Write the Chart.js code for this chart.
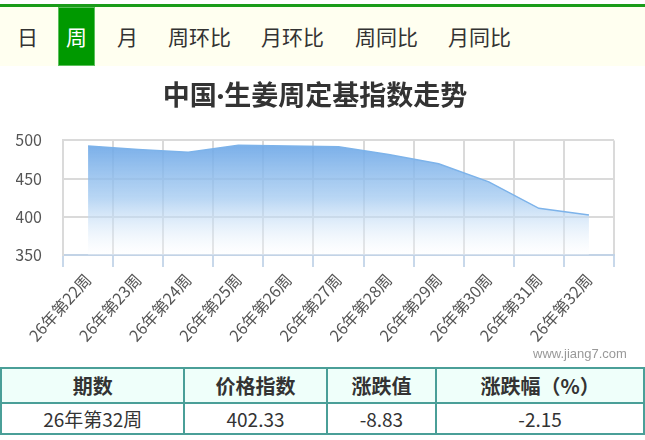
<!DOCTYPE html>
<html>
<head>
<meta charset="utf-8">
<script src="https://cdn.jsdelivr.net/npm/chart.js@4.4.1/dist/chart.umd.min.js"></script>
<style>
  body { margin: 0; background: #fff; font-family: "Noto Sans CJK SC", "Noto Sans", sans-serif; color: #333; }
  #page { position: relative; width: 645px; height: 440px; overflow: hidden; }
  #nav { position: absolute; left: 0; top: 4px; width: 645px; height: 59px; border-top: 3px solid #1a9c1a; background: #fffff0; }
  #nav span { position: absolute; top: 0; height: 59px; line-height: 59px; font-size: 21px; color: #333; }
  #nav span.on { background: #009900; color: #fff; width: 37px; text-align: center; box-shadow: inset 0 0 0 1px #5cbf5c; }
  #box { position: absolute; left: 0; top: 66px; width: 645px; height: 300px; }
  #mark { position: absolute; left: 533px; top: 346px; font: 13px "Liberation Sans", sans-serif; color: #999; }
  table { position: absolute; left: 0; top: 367px; width: 645px; border-collapse: collapse; }
  td, th { border: 2px solid #4a9f98; text-align: center; padding: 0; }
  th { background: #effffa; height: 33px; font-size: 20px; font-weight: bold; }
  td { height: 29px; font-size: 19px; }
</style>
</head>
<body>
<div id="page">
  <div id="nav"></div>
  <div id="box"><canvas id="graphique"></canvas></div>
  <div id="mark">www.jiang7.com</div>
  <table id="tbl"></table>
</div>
<script>
// ---- données ----
const tabs = ["日", "周", "月", "周环比", "月环比", "周同比", "月同比"];
const tabLeft = [17, 58, 117, 168, 261, 355, 448];
const weeks = ["26年第22周", "26年第23周", "26年第24周", "26年第25周", "26年第26周", "26年第27周",
               "26年第28周", "26年第29周", "26年第30周", "26年第31周", "26年第32周"];
const values = [492.8, 488.0, 484.5, 493.6, 492.8, 491.8, 481.5, 469.5, 445.8, 411.16, 402.33];
const yTicks = [350, 400, 450, 500];
const headers = ["期数", "价格指数", "涨跌值", "涨跌幅（%）"];
const lastRow = ["26年第32周", "402.33", "-8.83", "-2.15"];
const colWidths = [185, 142, 109, 209];

// ---- barre d'onglets ----
const nav = document.getElementById("nav");
tabs.forEach((t, i) => {
  const s = document.createElement("span");
  s.textContent = t;
  s.style.left = tabLeft[i] + "px";
  if (t === "周") s.className = "on";
  nav.appendChild(s);
});

// ---- tableau ----
const tbl = document.getElementById("tbl");
tbl.innerHTML =
  "<tr>" + headers.map((h, i) => `<th style="width:${colWidths[i]}px">${h}</th>`).join("") + "</tr>" +
  "<tr>" + lastRow.map(v => `<td>${v}</td>`).join("") + "</tr>";

// ---- graphique ----
const font = "'Noto Sans CJK SC', 'Noto Sans', sans-serif";

function fillGradient(context) {
  const { chart } = context;
  const area = chart.chartArea;
  if (!area) return "rgba(110,170,232,0.8)";
  const g = chart.ctx.createLinearGradient(0, area.top, 0, area.bottom);
  g.addColorStop(0, "rgba(104,164,230,0.92)");
  g.addColorStop(0.5, "rgba(160,200,240,0.75)");
  g.addColorStop(1, "rgba(255,255,255,0.3)");
  return g;
}

new Chart(document.getElementById("graphique"), {
  type: "line",
  data: {
    labels: weeks,
    datasets: [{
      data: values,
      borderColor: "#7db3ea",
      borderWidth: 1.5,
      backgroundColor: fillGradient,
      fill: "start",
      tension: 0,
      pointRadius: 0
    }]
  },
  options: {
    responsive: true,
    maintainAspectRatio: false,
    animation: false,
    layout: { padding: { left: 16, right: 31, bottom: 18 } },
    plugins: {
      legend: { display: false },
      tooltip: { enabled: false },
      title: {
        display: true,
        text: "中国·生姜周定基指数走势",
        color: "#333",
        font: { family: "Lato, " + font, size: 27, weight: "bold" },
        padding: { top: 14, bottom: 28 }
      }
    },
    scales: {
      x: {
        offset: true,
        grid: { offset: true, color: "#dadada", lineWidth: 2, tickLength: 12, tickColor: "#c8d8ea" },
        border: { color: "#c2d3e6", width: 2 },
        ticks: { color: "#555", font: { family: font, size: 16 }, minRotation: 48, maxRotation: 48, padding: 3 }
      },
      y: {
        min: 350,
        max: 500,
        afterBuildTicks: s => { s.ticks = yTicks.map(v => ({ value: v })); },
        afterFit: s => { s.width = 47; },
        grid: { color: "#dadada", lineWidth: 2, drawTicks: false },
        border: { color: "#dadada", width: 2 },
        ticks: { color: "#555", font: { family: font, size: 16 }, padding: 21 }
      }
    }
  }
});
</script>
</body>
</html>
